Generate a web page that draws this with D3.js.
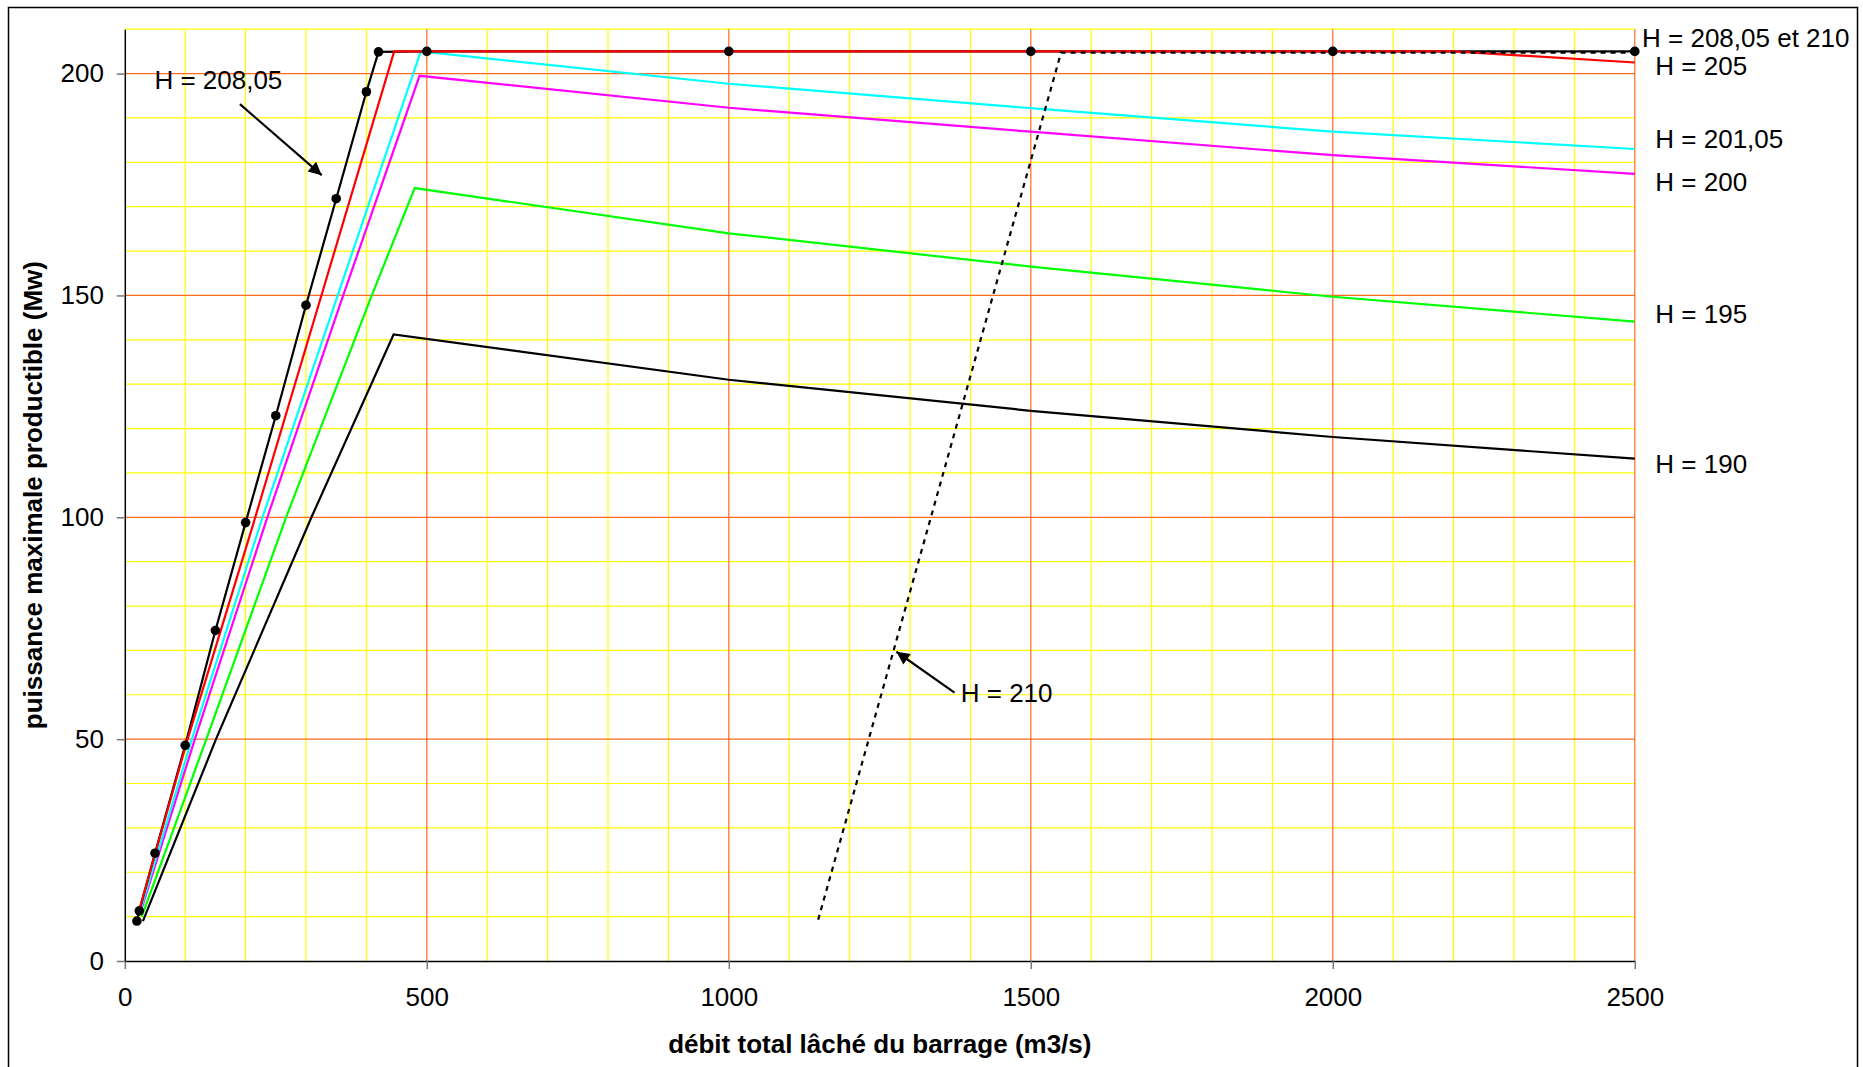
<!DOCTYPE html>
<html>
<head>
<meta charset="utf-8">
<script src="https://cdn.jsdelivr.net/npm/d3@7"></script>
<style>
  body { margin: 0; background: #fff; }
  text { font-family: Arial, "Liberation Sans", sans-serif; fill: #000; }
</style>
</head>
<body>
<svg id="chart" width="1863" height="1067"></svg>
<script>
// ---- values ----
const xTicks = [0, 500, 1000, 1500, 2000, 2500];
const yTicks = [0, 50, 100, 150, 200];

// [débit m3/s, puissance MW]
const h20805 = [[20, 9.0], [24, 11.3], [50, 24.3], [100, 48.6], [150, 74.5], [200, 98.8],
  [250, 122.9], [300, 147.8], [350, 171.8], [400, 195.9], [420, 204.9],
  [500, 205], [1000, 205], [1500, 205], [2000, 205], [2500, 205]];
const h205 = [[25, 12], [104, 50], [216, 100], [446, 205], [1000, 205], [2200, 205], [2500, 202.5]];
const h20105 = [[26, 11.5], [111, 50], [228, 100], [350, 149], [490, 205],
  [1000, 197.7], [1500, 192.2], [2000, 186.9], [2500, 183]];
const h200 = [[26, 11], [116, 50], [236, 100], [359, 149], [488, 199.5],
  [1000, 192.3], [1500, 186.9], [2000, 181.6], [2500, 177.4]];
const h195 = [[28, 10], [135, 50], [267, 100], [406, 149], [480, 174.2],
  [1000, 164], [1500, 156.5], [2000, 149.7], [2500, 144.1]];
const h190 = [[30, 9], [151, 50], [309, 100], [445, 141.2],
  [1000, 131], [1500, 124], [2000, 118.1], [2500, 113.2]];
const h210 = [[1148, 9.3], [1550, 204.7], [2500, 204.7]];

const curveLabels = ["H = 208,05 et 210", "H = 205", "H = 201,05", "H = 200", "H = 195", "H = 190"];

// ---- layout ----
const svg = d3.select("#chart");
const margin = { top: 29.2, right: 228.2, bottom: 106, left: 124.8 };
const width = 1863 - margin.left - margin.right;
const height = 1067 - margin.top - margin.bottom;

const x = d3.scaleLinear().domain([0, 2500]).range([0, width]);
const y = d3.scaleLinear().domain([0, 210]).range([height, 0]);

// label positions (data units), kept apart from the values
const curveLabelAt = [[2512, 206.1], [2534, 199.7], [2534, 183.2], [2534, 173.6], [2534, 143.8], [2534, 110]];
const arrowNotes = [
  { text: "H = 208,05", at: [49, 196.5], from: [190.6, 193.1], to: [326, 177.1] },
  { text: "H = 210", at: [1384, 58.4], from: [1373.7, 60.5], to: [1277.5, 69.7] }
];

svg.append("rect")
  .attr("width", 1863).attr("height", 1067)
  .attr("fill", "#fff");

// outer frame of the chart object
svg.append("rect")
  .attr("x", 8.5).attr("y", 7.5)
  .attr("width", 1849).attr("height", 1100)
  .attr("fill", "none")
  .attr("stroke", "#000")
  .attr("stroke-width", 1.5);

const defs = svg.append("defs");
defs.append("marker")
  .attr("id", "arrow")
  .attr("viewBox", "0 0 10 10")
  .attr("refX", 10).attr("refY", 5)
  .attr("markerUnits", "userSpaceOnUse")
  .attr("markerWidth", 17).attr("markerHeight", 13)
  .attr("orient", "auto")
  .append("path")
  .attr("d", "M0,0 L10,5 L0,10 z")
  .attr("fill", "#000");

const chart = svg.append("g")
  .attr("transform", `translate(${margin.left},${margin.top})`);

// minor gridlines (yellow) every 100 m3/s and 10 MW
const minorX = d3.range(100, 2500, 100).filter(v => v % 500 !== 0);
const minorY = d3.range(10, 211, 10).filter(v => v % 50 !== 0);

chart.append("g")
  .selectAll("line")
  .data(minorX)
  .join("line")
  .attr("x1", d => x(d)).attr("x2", d => x(d))
  .attr("y1", 0).attr("y2", height)
  .attr("stroke", "#ffff00")
  .attr("stroke-width", 1.2);

chart.append("g")
  .selectAll("line")
  .data(minorY)
  .join("line")
  .attr("x1", 0).attr("x2", width)
  .attr("y1", d => y(d)).attr("y2", d => y(d))
  .attr("stroke", "#ffff00")
  .attr("stroke-width", 1.2);

// major gridlines (orange)
chart.append("g")
  .selectAll("line")
  .data(xTicks.filter(v => v > 0))
  .join("line")
  .attr("x1", d => x(d)).attr("x2", d => x(d))
  .attr("y1", 0).attr("y2", height)
  .attr("stroke", "#ff6a1c")
  .attr("stroke-width", 1.2);

chart.append("g")
  .selectAll("line")
  .data(yTicks.filter(v => v > 0))
  .join("line")
  .attr("x1", 0).attr("x2", width)
  .attr("y1", d => y(d)).attr("y2", d => y(d))
  .attr("stroke", "#ff6a1c")
  .attr("stroke-width", 1.2);

// axes
const xAxis = chart.append("g")
  .attr("transform", `translate(0,${height})`)
  .call(d3.axisBottom(x).tickValues(xTicks).tickFormat(d3.format("d"))
    .tickSize(8).tickSizeOuter(0).tickPadding(18.5));

const yAxis = chart.append("g")
  .call(d3.axisLeft(y).tickValues(yTicks).tickFormat(d3.format("d"))
    .tickSize(8).tickSizeOuter(0).tickPadding(12.8));

[xAxis, yAxis].forEach(a => {
  a.select(".domain").attr("stroke", "#000").attr("stroke-width", 1.5);
  a.selectAll(".tick line").attr("stroke", "#777").attr("stroke-width", 1.5);
  a.selectAll(".tick text")
    .attr("fill", "#000")
    .style("font-family", "Arial, 'Liberation Sans', sans-serif")
    .style("font-size", "26px");
});

// axis titles
svg.append("text")
  .attr("x", margin.left + width / 2)
  .attr("y", 1053)
  .attr("text-anchor", "middle")
  .style("font-size", "26px")
  .style("font-weight", "bold")
  .text("débit total lâché du barrage (m3/s)");

svg.append("text")
  .attr("transform", `translate(42,${margin.top + height / 2}) rotate(-90)`)
  .attr("text-anchor", "middle")
  .style("font-size", "26px")
  .style("font-weight", "bold")
  .text("puissance maximale productible (Mw)");

// the curves
const line = d3.line()
  .x(d => x(d[0]))
  .y(d => y(d[1]));

const series = [
  { data: h190, color: "#000000" },
  { data: h195, color: "#00ff00" },
  { data: h200, color: "#ff00ff" },
  { data: h20105, color: "#00ffff" },
  { data: h20805, color: "#000000" },
  { data: h205, color: "#ff0000" }
];

chart.append("g")
  .selectAll("path")
  .data(series)
  .join("path")
  .attr("d", d => line(d.data))
  .attr("fill", "none")
  .attr("stroke", d => d.color)
  .attr("stroke-width", 2.2)
  .attr("stroke-linejoin", "miter");

// H = 210, dotted
chart.append("path")
  .datum(h210)
  .attr("d", line)
  .attr("fill", "none")
  .attr("stroke", "#000")
  .attr("stroke-width", 2.2)
  .attr("stroke-dasharray", "5,5");

// markers of H = 208,05
chart.append("g")
  .selectAll("circle")
  .data(h20805)
  .join("circle")
  .attr("cx", d => x(d[0]))
  .attr("cy", d => y(d[1]))
  .attr("r", 4.8)
  .attr("fill", "#000");

// labels at the end of the curves
chart.append("g")
  .selectAll("text")
  .data(curveLabels)
  .join("text")
  .attr("x", (d, i) => x(curveLabelAt[i][0]))
  .attr("y", (d, i) => y(curveLabelAt[i][1]))
  .style("font-size", "26px")
  .text(d => d);

// arrow notes
const notes = chart.append("g");
notes.selectAll("line")
  .data(arrowNotes)
  .join("line")
  .attr("x1", d => x(d.from[0])).attr("y1", d => y(d.from[1]))
  .attr("x2", d => x(d.to[0])).attr("y2", d => y(d.to[1]))
  .attr("stroke", "#000")
  .attr("stroke-width", 2.2)
  .attr("marker-end", "url(#arrow)");

notes.selectAll("text")
  .data(arrowNotes)
  .join("text")
  .attr("x", d => x(d.at[0]))
  .attr("y", d => y(d.at[1]))
  .style("font-size", "26px")
  .text(d => d.text);
</script>
</body>
</html>
